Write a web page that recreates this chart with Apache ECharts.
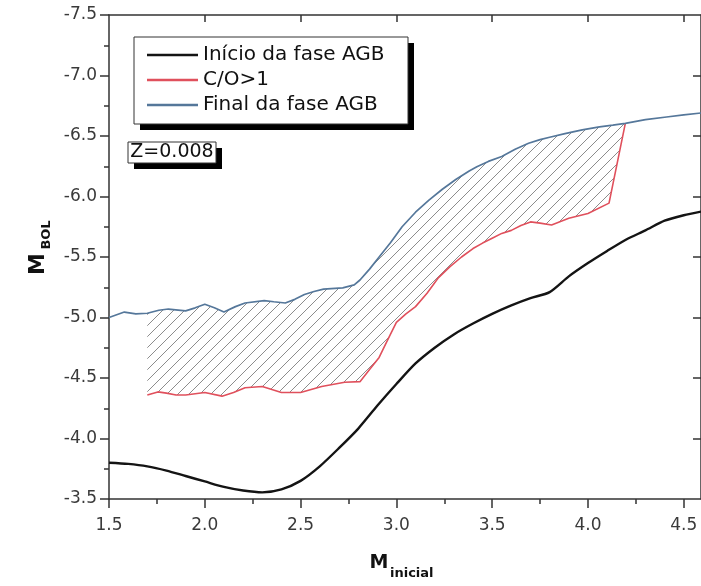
<!DOCTYPE html>
<html><head><meta charset="utf-8">
<script src="https://cdn.jsdelivr.net/npm/echarts@6/dist/echarts.min.js"></script>
<style>html,body{margin:0;padding:0;background:#fff}#c{width:701px;height:586px}</style>
</head><body><div id="c"></div>
<script>
// ---- data ----
const xTickValues = [1.5, 2.0, 2.5, 3.0, 3.5, 4.0, 4.5];
const xMinorTickValues = [1.75, 2.25, 2.75, 3.25, 3.75, 4.25];
const yTickValues = [-7.5, -7.0, -6.5, -6.0, -5.5, -5.0, -4.5, -4.0, -3.5];
const yMinorTickValues = [-7.25, -6.75, -6.25, -5.75, -5.25, -4.75, -4.25, -3.75];
const seriesNames = ['Início da fase AGB', 'C/O>1', 'Final da fase AGB'];
const xTitle = ['M', 'inicial'];
const yTitle = ['M', 'BOL'];
const metallicityLabel = 'Z=0.008';

const inicioAGB = [[1.50,-3.80],[1.60,-3.79],[1.70,-3.77],[1.80,-3.735],[1.90,-3.69],[2.00,-3.645],[2.10,-3.60],[2.20,-3.57],[2.30,-3.555],[2.40,-3.58],[2.50,-3.65],[2.60,-3.77],[2.70,-3.92],[2.80,-4.08],[2.90,-4.27],[3.00,-4.45],[3.10,-4.62],[3.20,-4.75],[3.30,-4.86],[3.40,-4.95],[3.50,-5.03],[3.60,-5.10],[3.70,-5.16],[3.80,-5.21],[3.90,-5.34],[4.00,-5.45],[4.10,-5.55],[4.20,-5.645],[4.30,-5.72],[4.40,-5.80],[4.50,-5.845],[4.59,-5.875]];

const coRatio = [[1.70,-4.36],[1.755,-4.385],[1.80,-4.375],[1.85,-4.36],[1.90,-4.36],[2.00,-4.38],[2.09,-4.35],[2.15,-4.38],[2.21,-4.42],[2.30,-4.43],[2.40,-4.38],[2.50,-4.38],[2.61,-4.43],[2.73,-4.465],[2.81,-4.47],[2.86,-4.57],[2.91,-4.67],[2.95,-4.80],[3.00,-4.96],[3.05,-5.03],[3.10,-5.09],[3.16,-5.20],[3.22,-5.33],[3.28,-5.42],[3.34,-5.50],[3.40,-5.57],[3.45,-5.615],[3.50,-5.655],[3.55,-5.695],[3.60,-5.72],[3.65,-5.76],[3.70,-5.79],[3.75,-5.78],[3.81,-5.765],[3.90,-5.82],[4.00,-5.86],[4.11,-5.945],[4.195,-6.605]];

const finalAGB = [[1.50,-5.00],[1.58,-5.045],[1.64,-5.03],[1.70,-5.035],[1.76,-5.06],[1.81,-5.07],[1.90,-5.055],[1.95,-5.08],[2.00,-5.11],[2.05,-5.08],[2.10,-5.045],[2.16,-5.09],[2.21,-5.12],[2.31,-5.14],[2.36,-5.13],[2.42,-5.12],[2.47,-5.15],[2.52,-5.19],[2.57,-5.215],[2.62,-5.235],[2.72,-5.245],[2.78,-5.27],[2.81,-5.31],[2.86,-5.40],[2.91,-5.50],[2.97,-5.62],[3.03,-5.75],[3.10,-5.87],[3.17,-5.97],[3.24,-6.06],[3.31,-6.14],[3.38,-6.21],[3.42,-6.245],[3.48,-6.29],[3.55,-6.33],[3.62,-6.39],[3.69,-6.44],[3.75,-6.47],[3.80,-6.49],[3.88,-6.52],[3.97,-6.55],[4.06,-6.575],[4.13,-6.59],[4.195,-6.605],[4.30,-6.635],[4.41,-6.657],[4.50,-6.675],[4.59,-6.69]];

// ---- chart ----
const X_MIN = 1.5, X_MAX = 4.59, Y_MIN = -7.5, Y_MAX = -3.5;
const FONT = 'DejaVu Sans';
const AX = '#333';

const x0 = coRatio[0][0], x1 = coRatio[coRatio.length - 1][0];
const hatchPolygon = finalAGB.filter(p => p[0] >= x0 && p[0] <= x1).concat(coRatio.slice().reverse());

function makeHatch() {
  const s = 11, c = document.createElement('canvas');
  c.width = s; c.height = s;
  const g = c.getContext('2d');
  g.strokeStyle = '#8c8c8c'; g.lineWidth = 1;
  g.beginPath();
  g.moveTo(-1, s + 1); g.lineTo(s + 1, -1);
  g.moveTo(-1, 1); g.lineTo(1, -1);
  g.moveTo(s - 1, s + 1); g.lineTo(s + 1, s - 1);
  g.stroke();
  return c;
}
const hatch = makeHatch();

function xAx(pos, opts) {
  return Object.assign({
    type: 'value', position: pos, min: X_MIN, max: X_MAX, interval: 0.5,
    axisLine: { show: false, onZero: false, lineStyle: { color: AX, width: 1.5 } },
    splitLine: { show: false }, axisLabel: { show: false }
  }, opts);
}
function yAx(pos, opts) {
  return Object.assign({
    type: 'value', position: pos, min: Y_MIN, max: Y_MAX, interval: 0.5, inverse: true,
    axisLine: { show: false, onZero: false, lineStyle: { color: AX, width: 1.5 } },
    splitLine: { show: false }, axisLabel: { show: false }
  }, opts);
}

const chart = echarts.init(document.getElementById('c'), null, { renderer: 'canvas' });
chart.setOption({
  backgroundColor: '#fff',
  animation: false,
  grid: { left: 109, top: 15, width: 593, height: 484 },
  xAxis: [
    xAx('bottom', {
      axisLine: { show: true, onZero: false, lineStyle: { color: AX, width: 1.5 } },
      axisTick: { show: true, inside: false, length: 9, customValues: xTickValues, lineStyle: { color: AX, width: 1.5 } },
      axisLabel: { show: true, customValues: xTickValues, formatter: v => v.toFixed(1), margin: 18,
        fontFamily: FONT, fontSize: 17, color: '#3a3a3a' }
    }),
    xAx('bottom', {
      axisTick: { show: true, inside: false, length: 5, customValues: xMinorTickValues, lineStyle: { color: AX, width: 1.5 } }
    }),
    xAx('top', {
      axisLine: { show: true, onZero: false, lineStyle: { color: AX, width: 1.5 } },
      axisTick: { show: true, inside: true, length: 7, customValues: xTickValues.slice(1), lineStyle: { color: AX, width: 1.5 } }
    })
  ],
  yAxis: [
    yAx('left', {
      axisLine: { show: true, onZero: false, lineStyle: { color: AX, width: 1.5 } },
      axisTick: { show: true, inside: false, length: 9, customValues: yTickValues, lineStyle: { color: AX, width: 1.5 } },
      axisLabel: { show: true, customValues: yTickValues, formatter: v => v.toFixed(1), margin: 12,
        fontFamily: FONT, fontSize: 17, color: '#3a3a3a' }
    }),
    yAx('left', {
      axisTick: { show: true, inside: false, length: 5, customValues: yMinorTickValues, lineStyle: { color: AX, width: 1.5 } }
    }),
    yAx('right', {
      axisLine: { show: true, onZero: false, lineStyle: { color: AX, width: 1.5 } },
      axisTick: { show: true, inside: true, length: 8, customValues: yTickValues.slice(1, -1), lineStyle: { color: AX, width: 1.5 } }
    })
  ],
  legend: {
    left: 134, top: 37, orient: 'vertical', z: 20,
    padding: [8, 22, 9, 13], itemGap: 5, itemWidth: 51, itemHeight: 2.5,
    data: seriesNames.map(n => ({ name: n, icon: 'rect' })),
    textStyle: { fontFamily: FONT, fontSize: 20, color: '#111', lineHeight: 20 },
    backgroundColor: 'transparent', borderWidth: 0
  },
  series: [
    {
      type: 'custom', name: 'hatch', silent: true, z: 1,
      xAxisIndex: 0, yAxisIndex: 0,
      data: [hatchPolygon[0]],
      renderItem: (params, api) => ({
        type: 'polygon',
        shape: { points: hatchPolygon.map(p => api.coord(p)) },
        style: { fill: { image: hatch, repeat: 'repeat' }, stroke: null }
      })
    },
    { type: 'line', name: seriesNames[0], data: inicioAGB, symbol: 'none', smooth: 0.25, z: 3,
      lineStyle: { color: '#141414', width: 2.4 }, itemStyle: { color: '#141414' } },
    { type: 'line', name: seriesNames[1], data: coRatio, symbol: 'none', z: 3,
      lineStyle: { color: '#e0505c', width: 1.6 }, itemStyle: { color: '#e0505c' } },
    { type: 'line', name: seriesNames[2], data: finalAGB, symbol: 'none', z: 4,
      lineStyle: { color: '#55779a', width: 1.7 }, itemStyle: { color: '#55779a' } }
  ],
  graphic: [
    { type: 'rect', shape: { x: 140, y: 43, width: 274, height: 87 }, style: { fill: '#000' }, z: 10 },
    { type: 'rect', shape: { x: 134, y: 37, width: 274, height: 87 }, style: { fill: '#fff', stroke: '#333', lineWidth: 1 }, z: 11 },
    { type: 'rect', shape: { x: 134, y: 148, width: 88, height: 21 }, style: { fill: '#000' }, z: 10 },
    { type: 'rect', shape: { x: 128, y: 142, width: 88, height: 21 }, style: { fill: '#fff', stroke: '#333', lineWidth: 1 }, z: 11 },
    { type: 'text', x: 172, y: 152.5, z: 12,
      style: { text: metallicityLabel, font: '19px "DejaVu Sans"', fill: '#111', align: 'center', verticalAlign: 'middle' } },
    { type: 'text', x: 38, y: 264, rotation: Math.PI / 2, z: 12,
      style: { text: yTitle[0], font: 'bold 22px "DejaVu Sans"', fill: '#111', align: 'center', verticalAlign: 'middle' } },
    { type: 'text', x: 47, y: 235, rotation: Math.PI / 2, z: 12,
      style: { text: yTitle[1], font: 'bold 13px "DejaVu Sans"', fill: '#111', align: 'center', verticalAlign: 'middle' } },
    { type: 'text', x: 379, y: 563, z: 12,
      style: { text: xTitle[0], font: 'bold 19px "DejaVu Sans"', fill: '#111', align: 'center', verticalAlign: 'middle' } },
    { type: 'text', x: 390, y: 574, z: 12,
      style: { text: xTitle[1], font: 'bold 13px "DejaVu Sans"', fill: '#111', align: 'left', verticalAlign: 'middle' } }
  ]
});
</script>
</body></html>
